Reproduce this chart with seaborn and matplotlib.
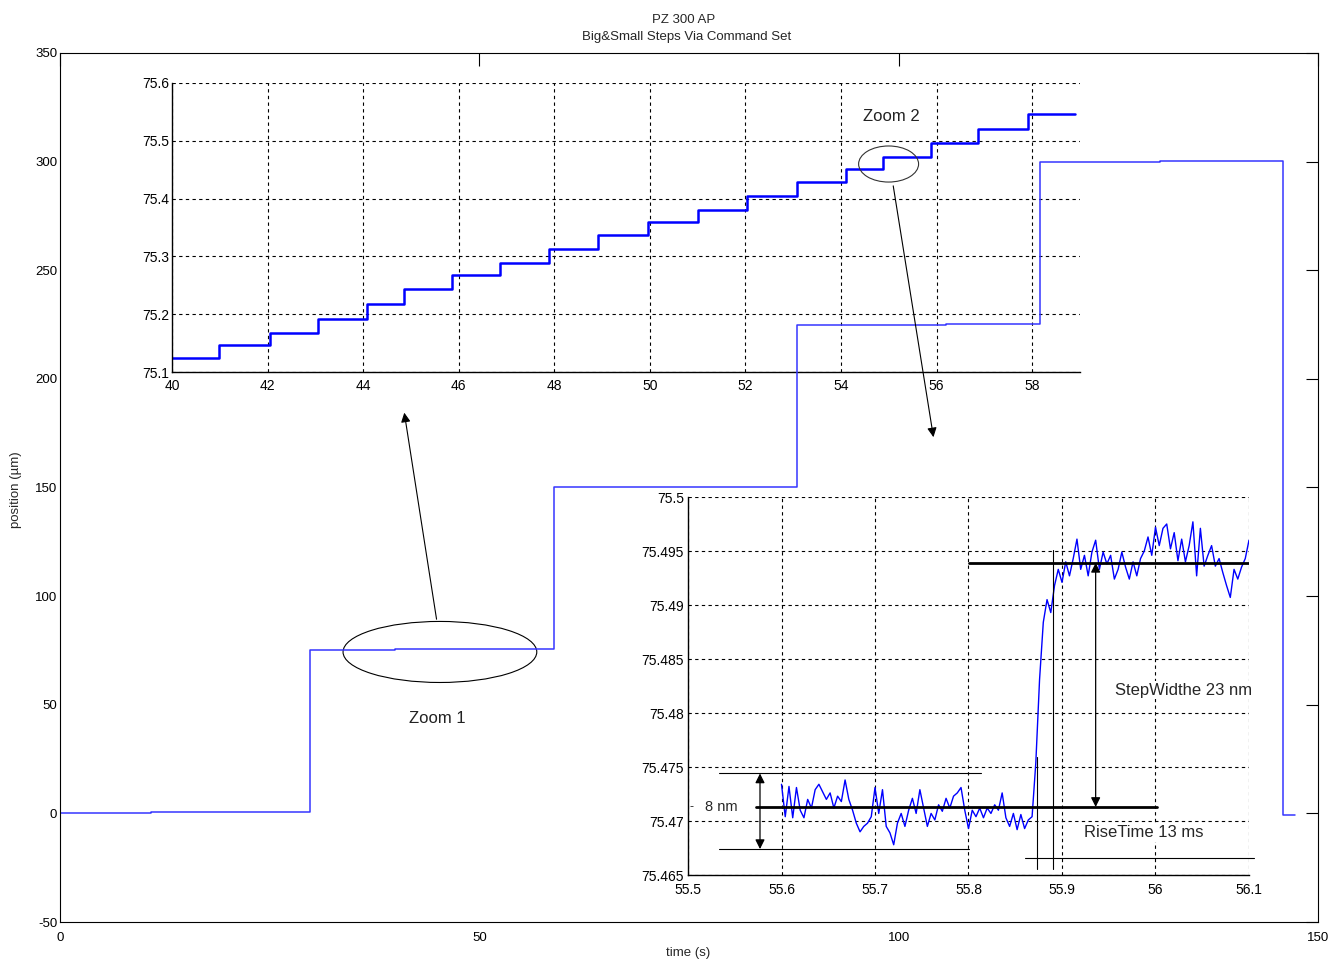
import matplotlib
matplotlib.use("Agg")
import numpy as np
import pandas as pd
import matplotlib.pyplot as plt
from matplotlib.patches import Ellipse
from matplotlib.ticker import FuncFormatter
import seaborn as sns

# ---- data ----
# whole run: times (s) where the level changes and the level after it (um)
main_t = [0.0, 10.8, 29.8, 40.0, 58.9, 87.9, 105.6, 116.8, 131.2, 145.8, 147.3]
main_pos = [0.0, 0.6, 75.0, 75.5, 150.0, 224.8, 225.3, 299.8, 300.3, -0.6, -0.6]

# zoom 1: the small command steps between 40 and 59 s
zoom1_t = [40.0, 40.98, 42.05, 43.06, 44.09, 44.85, 45.86, 46.86, 47.89, 48.92,
           49.96, 51.0, 52.03, 53.07, 54.1, 54.88, 55.88, 56.87, 57.92, 58.9]
zoom1_pos = [75.124, 75.147, 75.167, 75.192, 75.217, 75.243, 75.267, 75.288, 75.312, 75.337,
             75.360, 75.380, 75.404, 75.428, 75.452, 75.472, 75.496, 75.520, 75.546, 75.546]

# zoom 2: one step, sampled every 4 ms from 55.6 s, height above 75.465 um in nm
zoom2_t0 = 55.600
zoom2_dt = 0.004
zoom2_base = 75.465
zoom2_nm = [8.4, 5.4, 8.2, 5.3, 8.1, 6.0, 5.3, 7.0, 6.2, 7.9,
            8.4, 7.7, 7.0, 7.6, 6.2, 7.3, 6.8, 8.8, 7.0, 6.0,
            4.8, 4.0, 4.5, 4.8, 5.4, 8.1, 5.7, 7.9, 4.5, 3.9,
            2.8, 4.8, 5.7, 4.5, 6.0, 7.1, 5.7, 7.9, 6.2, 4.5,
            5.7, 5.1, 6.5, 5.9, 7.1, 6.2, 7.3, 7.6, 8.1, 6.0,
            4.3, 6.0, 5.4, 6.2, 5.3, 6.2, 5.7, 6.5, 6.0, 7.6,
            5.3, 4.5, 5.7, 4.2, 5.6, 4.3, 5.1, 5.4, 10.4, 18.1,
            23.4, 25.5, 24.3, 26.8, 28.3, 27.1, 29.0, 27.7, 29.3, 31.1,
            28.3, 29.6, 27.7, 29.9, 31.0, 28.3, 29.9, 28.8, 29.6, 27.4,
            28.3, 29.9, 28.5, 27.4, 29.0, 27.7, 29.3, 30.0, 31.3, 29.6,
            32.2, 30.5, 32.1, 32.5, 30.2, 31.7, 29.1, 31.1, 29.0, 30.5,
            32.7, 27.7, 32.1, 28.6, 29.6, 30.5, 28.6, 29.3, 28.0, 26.8,
            25.7, 28.3, 27.4, 28.5, 29.3, 31.0]

# levels marked in zoom 2 (um) and the rise-time markers (s)
level_low = 75.4713
level_high = 75.4939
noise_top = 75.4744
noise_bottom = 75.4674
rise_start = 55.873
rise_end = 55.890

main_xticks = [0, 50, 100, 150]
main_yticks = [-50, 0, 50, 100, 150, 200, 250, 300, 350]
zoom1_xticks = [40, 42, 44, 46, 48, 50, 52, 54, 56, 58]
zoom1_yticks = [75.1, 75.2, 75.3, 75.4, 75.5, 75.6]
zoom2_xticks = [55.5, 55.6, 55.7, 55.8, 55.9, 56.0, 56.1]
zoom2_yticks = [75.465, 75.47, 75.475, 75.48, 75.485, 75.49, 75.495, 75.5]

main_df = pd.DataFrame({"t": main_t, "pos": main_pos})
zoom1_df = pd.DataFrame({"t": zoom1_t, "pos": zoom1_pos})
zoom2_df = pd.DataFrame({
    "t": [zoom2_t0 + i * zoom2_dt for i in range(len(zoom2_nm))],
    "pos": [zoom2_base + v / 1000 for v in zoom2_nm],
})

sns.set_theme(style="white")
plt.rcParams["font.family"] = ["Liberation Sans", "DejaVu Sans"]
plt.rcParams["axes.unicode_minus"] = False
gfmt = FuncFormatter(lambda v, p: f"{v:g}")

W, H = 1340, 963
fig = plt.figure(figsize=(W / 100, H / 100), dpi=100)
fig.patch.set_facecolor("white")

def box(l, t, r, b):
    return [l / W, 1 - b / H, (r - l) / W, (b - t) / H]

# ---- main axes ----
ax = fig.add_axes(box(60, 53, 1318, 922), zorder=1)
ax.set_facecolor("none")
sns.lineplot(data=main_df, x="t", y="pos", ax=ax, color="#3535ff", lw=1.1,
             drawstyle="steps-post", estimator=None, sort=False)
ax.set_xlim(0, 150)
ax.set_ylim(-50, 350)
ax.set_xticks(main_xticks)
ax.set_yticks(main_yticks)
ax.tick_params(direction="in", length=9, width=0.8, top=True, right=True,
               labelsize=9.5, colors="black")
ax.tick_params(axis="x", pad=7)
ax.tick_params(axis="y", pad=2)
for s in ax.spines.values():
    s.set_color("black")
    s.set_linewidth(0.8)
ax.set_xlabel("")
ax.set_ylabel("")

fig.text(684 / W, 1 - 20 / H, "PZ 300 AP", ha="center", va="center", fontsize=9.5)
fig.text(687 / W, 1 - 37 / H, "Big&Small Steps Via Command Set", ha="center", va="center", fontsize=9.5)
fig.text(688 / W, 1 - 953 / H, "time (s)", ha="center", va="center", fontsize=9.5)
fig.text(16 / W, 1 - 490 / H, "position (µm)", ha="center", va="center", rotation=90, fontsize=9.5)

# zoom markers on the main axes
ax.add_patch(Ellipse((45.3, 74.3), 23.1, 28.1, fill=False, ec="black", lw=0.8))
ax.annotate("", xy=(41.0, 185.7), xytext=(44.95, 88.1),
            arrowprops=dict(arrowstyle="-|>", color="black", lw=0.8, mutation_scale=14))
ax.text(44.95, 43.5, "Zoom 1", ha="center", va="center", fontsize=12, color="#222222")
ax.add_patch(Ellipse((98.8, 298.9), 7.15, 16.6, fill=False, ec="#333333", lw=0.8))
ax.annotate("", xy=(104.2, 171.9), xytext=(99.3, 290.1),
            arrowprops=dict(arrowstyle="-|>", color="black", lw=0.8, mutation_scale=14))
ax.text(99.1, 321.0, "Zoom 2", ha="center", va="center", fontsize=12, color="#222222")

grid_kw = dict(color="black", linestyle=(0, (3, 3)), linewidth=0.8)

# ---- zoom 1 inset ----
ax1 = fig.add_axes(box(172, 83, 1080, 372), zorder=0)
ax1.set_facecolor("white")
sns.lineplot(data=zoom1_df, x="t", y="pos", ax=ax1, color="#0000ff", lw=1.8,
             drawstyle="steps-post", estimator=None, sort=False)
ax1.set_xlim(40, 59)
ax1.set_ylim(75.1, 75.6)
ax1.set_xticks(zoom1_xticks)
ax1.set_yticks(zoom1_yticks)
ax1.yaxis.set_major_formatter(gfmt)
ax1.xaxis.set_major_formatter(gfmt)
ax1.grid(True, **grid_kw)
ax1.set_axisbelow(True)
for side in ["top", "right"]:
    ax1.spines[side].set_visible(False)
for side in ["left", "bottom"]:
    ax1.spines[side].set_color("black")
    ax1.spines[side].set_linewidth(1.0)
ax1.tick_params(direction="in", length=0, labelsize=10, colors="black")
ax1.tick_params(axis="x", pad=5)
ax1.tick_params(axis="y", pad=2)
ax1.set_xlabel("")
ax1.set_ylabel("")

# ---- zoom 2 inset ----
ax2 = fig.add_axes(box(688, 497, 1249, 875), zorder=2)
ax2.set_facecolor("white")
sns.lineplot(data=zoom2_df, x="t", y="pos", ax=ax2, color="#0000ff", lw=1.0,
             estimator=None, sort=False)
ax2.set_xlim(55.5, 56.1)
ax2.set_ylim(75.465, 75.5)
ax2.set_xticks(zoom2_xticks)
ax2.set_yticks(zoom2_yticks)
ax2.yaxis.set_major_formatter(gfmt)
ax2.xaxis.set_major_formatter(gfmt)
ax2.grid(True, **grid_kw)
ax2.set_axisbelow(True)
for side in ["top", "right"]:
    ax2.spines[side].set_visible(False)
for side in ["left", "bottom"]:
    ax2.spines[side].set_color("black")
    ax2.spines[side].set_linewidth(1.0)
ax2.tick_params(direction="in", length=0, labelsize=10, colors="black")
ax2.tick_params(axis="x", pad=6)
ax2.tick_params(axis="y", pad=3)
ax2.set_xlabel("")
ax2.set_ylabel("")

# level marks
ax2.plot([55.573, 56.002], [level_low, level_low], color="black", lw=2.0)
ax2.plot([55.801, 56.100], [level_high, level_high], color="black", lw=2.0)
ax2.plot([55.533, 55.813], [noise_top, noise_top], color="black", lw=0.8)
ax2.plot([55.533, 55.801], [noise_bottom, noise_bottom], color="black", lw=0.8)
ax2.plot([55.860, 56.105], [75.4666, 75.4666], color="black", lw=0.8, clip_on=False)
ax2.plot([rise_start, rise_start], [75.4656, 75.4759], color="black", lw=0.8)
ax2.plot([rise_end, rise_end], [75.4656, 75.4951], color="black", lw=0.8)
ax2.annotate("", xy=(55.577, noise_top), xytext=(55.577, noise_bottom),
             arrowprops=dict(arrowstyle="<|-|>", color="black", lw=0.9, mutation_scale=14,
                             shrinkA=0, shrinkB=0))
ax2.annotate("", xy=(55.936, level_high), xytext=(55.936, level_low),
             arrowprops=dict(arrowstyle="<|-|>", color="black", lw=0.9, mutation_scale=14,
                             shrinkA=0, shrinkB=0))
ax2.text(55.536, level_low, "8 nm", ha="center", va="center", fontsize=10.5)
ax2.text(55.504, level_low, "-", ha="center", va="center", fontsize=9)
ax2.text(56.03, 75.4821, "StepWidthe 23 nm", ha="center", va="center", fontsize=12,
         bbox=dict(fc="white", ec="none", pad=1))
ax2.text(55.9235, 75.4689, "RiseTime 13 ms", ha="left", va="center", fontsize=12,
         bbox=dict(fc="white", ec="none", pad=1))

fig.savefig("out.png", dpi=100, facecolor="white")
